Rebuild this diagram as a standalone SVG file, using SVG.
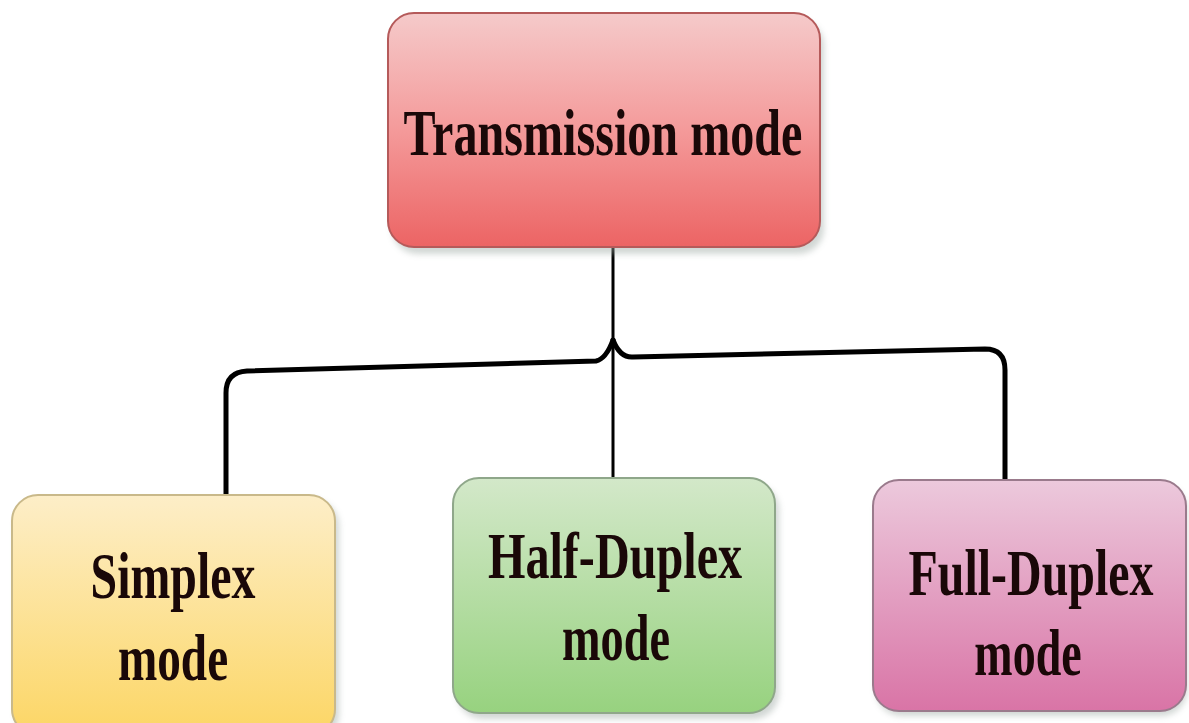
<svg xmlns="http://www.w3.org/2000/svg" width="1189" height="723" viewBox="0 0 1189 723">
<defs>
<linearGradient id="gRed" x1="0" y1="0" x2="0" y2="1"><stop offset="0" stop-color="#f5caca"/><stop offset="0.5" stop-color="#f49a9a"/><stop offset="1" stop-color="#ec6464"/></linearGradient>
<linearGradient id="gYel" x1="0" y1="0" x2="0" y2="1"><stop offset="0" stop-color="#fdeec8"/><stop offset="1" stop-color="#fcd665"/></linearGradient>
<linearGradient id="gGrn" x1="0" y1="0" x2="0" y2="1"><stop offset="0" stop-color="#d3e8c9"/><stop offset="1" stop-color="#97d27f"/></linearGradient>
<linearGradient id="gPnk" x1="0" y1="0" x2="0" y2="1"><stop offset="0" stop-color="#ecc9dc"/><stop offset="1" stop-color="#d974a6"/></linearGradient>
<filter id="sh" x="-10%" y="-10%" width="120%" height="130%"><feGaussianBlur stdDeviation="3"/></filter>
</defs>
<style>
.lbl{font-family:"Liberation Serif","Times New Roman",serif;font-weight:bold;font-size:66px;fill:#1a0808;text-anchor:middle}
.shadow{fill:#9aa6a0;opacity:0.45;filter:url(#sh)}
.conn{fill:none;stroke:#000;stroke-linecap:round;stroke-linejoin:round}
</style>
<rect width="1189" height="723" fill="#ffffff"/>
<g id="connectors">
<path class="conn" stroke-width="3" d="M613 247 L613 480"/>
<path class="conn" stroke-width="5" d="M226 495 L226 393 Q226 372 247 371 L596 361 Q606 359 613 340"/>
<path class="conn" stroke-width="5" d="M613 340 Q620 358 633 357 L985 349 Q1005 349 1005 370 L1005 480"/>
</g>
<g id="node-transmission">
<rect class="shadow" x="392" y="20" width="432" height="234" rx="26"/>
<rect x="388" y="13" width="432" height="234" rx="26" fill="url(#gRed)" stroke="#b55a5a" stroke-width="2"/>
<text class="lbl" transform="translate(603,155) scale(0.72,1)" textLength="554" lengthAdjust="spacingAndGlyphs">Transmission mode</text>
</g>
<g id="node-simplex">
<rect class="shadow" x="16" y="500" width="323" height="240" rx="26"/>
<rect x="12" y="495" width="323" height="240" rx="26" fill="url(#gYel)" stroke="#c9b98a" stroke-width="2"/>
<text class="lbl" transform="translate(173,598) scale(0.72,1)" textLength="229" lengthAdjust="spacingAndGlyphs">Simplex</text>
<text class="lbl" transform="translate(173,680) scale(0.72,1)" textLength="153" lengthAdjust="spacingAndGlyphs">mode</text>
</g>
<g id="node-half">
<rect class="shadow" x="457" y="484" width="322" height="235" rx="26"/>
<rect x="453" y="478" width="322" height="235" rx="26" fill="url(#gGrn)" stroke="#8fa78a" stroke-width="2"/>
<text class="lbl" transform="translate(615,578) scale(0.72,1)" textLength="353" lengthAdjust="spacingAndGlyphs">Half-Duplex</text>
<text class="lbl" transform="translate(616,660) scale(0.72,1)" textLength="150" lengthAdjust="spacingAndGlyphs">mode</text>
</g>
<g id="node-full">
<rect class="shadow" x="876" y="485" width="311" height="231" rx="26"/>
<rect x="873" y="480" width="313" height="231" rx="26" fill="url(#gPnk)" stroke="#9a7a8c" stroke-width="2"/>
<text class="lbl" transform="translate(1031,595) scale(0.72,1)" textLength="340" lengthAdjust="spacingAndGlyphs">Full-Duplex</text>
<text class="lbl" transform="translate(1028,675) scale(0.72,1)" textLength="149" lengthAdjust="spacingAndGlyphs">mode</text>
</g>
</svg>
